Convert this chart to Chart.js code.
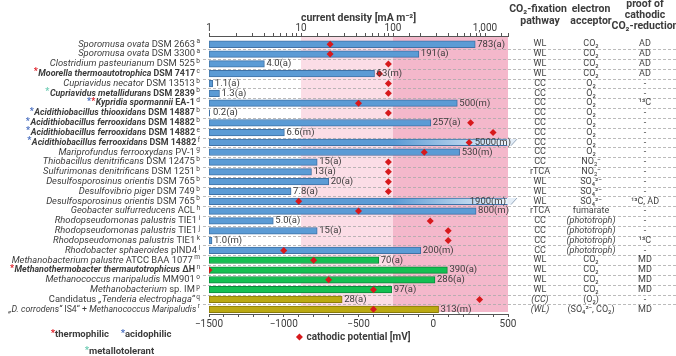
<!DOCTYPE html>
<html lang="en">
<head>
  <meta charset="UTF-8"/>
  <title>Cathodic CO2 reduction</title>
  <script src="https://cdn.jsdelivr.net/npm/chart.js"></script>
  <style>
    body { margin: 0; background: #fff; }
    canvas { display: block; }
  </style>
</head>
<body>
<canvas id="chart" width="676" height="356"></canvas>
<script>
  // organism labels, '_' toggles italic
  const organisms = [
    '_Sporomusa ovata_ DSM 2663', '_Sporomusa ovata_ DSM 3300', '_Clostridium pasteurianum_ DSM 525',
    '_Moorella thermoautotrophica_ DSM 7417', '_Cupriavidus necator_ DSM 13513', '_Cupriavidus metallidurans_ DSM 2839',
    '_Kypridia spormannii_ EA-1', '_Acidithiobacillus thiooxidans_ DSM 14887', '_Acidithiobacillus ferrooxidans_ DSM 14882',
    '_Acidithiobacillus ferrooxidans_ DSM 14882', '_Acidithiobacillus ferrooxidans_ DSM 14882', '_Mariprofundus ferrooxydans_ PV-1',
    '_Thiobacillus denitrificans_ DSM 12475', '_Sulfurimonas denitrificans_ DSM 1251', '_Desulfosporosinus orientis_ DSM 765',
    '_Desulfovibrio piger_ DSM 749', '_Desulfosporosinus orientis_ DSM 765', '_Geobacter sulfurreducens_ ACL',
    '_Rhodopseudomonas palustris_ TIE1', '_Rhodopseudomonas palustris_ TIE1', '_Rhodopseudomonas palustris_ TIE1',
    '_Rhodobacter sphaeroides_ pIND4', '_Methanobacterium palustre_ ATCC BAA 1077', '_Methanothermobacter thermautotrophicus_ ΔH',
    '_Methanococcus maripaludis_ MM901', '_Methanobacterium_ sp. IM', 'Candidatus _„Tenderia electrophaga“_',
    '_„D. corrodens“_ IS4“ + _Methanococcus Maripaludis_'
  ];
  const refs = ['a','a','b','c','b','b','d','b','b','e','f','g','b','b','b','b','b','h','i','j','k','l','m','n','o','p','q','r'];
  const boldRows = [3, 5, 6, 7, 8, 9, 10, 23];
  // r = thermophilic, b = acidophilic, t = metallotolerant
  const markers = ['','','','r','','t','br','b','b','b','b','','','','','','','','','','','','','r','','','',''];

  const currentDensity = [783, 191, 4.0, 63, 1.1, 1.3, 500, 0.2, 257, 6.6, 5000, 530, 15, 13, 20, 7.8, 1900, 800, 5.0, 15, 1.0, 200, 70, 390, 286, 97, 28, 313];
  const method = ['a','a','a','m','a','a','m','a','a','m','m','m','a','a','a','a','m','m','a','a','m','m','a','a','a','a','a','m'];
  const potential = [-690, -690, -300, -360, -300, -300, -500, -300, 250, 400, 240, -60, -300, -300, -300, -300, -900, -500, -20, 100, 100, -1000, -800, -1500, -700, -400, 310, -400];
  // b = blue, g = green, o = olive, f = faded (off-scale)
  const group = ['b','b','b','b','b','b','b','b','b','b','f','b','b','b','b','b','f','b','b','b','b','b','g','g','g','g','o','o'];

  const pathway = ['WL','WL','WL','WL','CC','CC','CC','CC','CC','CC','CC','CC','CC','rTCA','WL','WL','WL','rTCA','CC','CC','CC','CC','WL','WL','WL','WL','_(CC)_','_(WL)_'];
  const acceptor = ['CO₂','CO₂','CO₂','CO₂','O₂','O₂','O₂','O₂','O₂','O₂','O₂','O₂','NO₃⁻','NO₃⁻','SO₄²⁻','SO₄²⁻','SO₄²⁻','fumarate',
    '_(phototroph)_','_(phototroph)_','_(phototroph)_','_(phototroph)_','CO₂','CO₂','CO₂','CO₂','(O₂)','(SO₄²⁻, CO₂)'];
  const proof = ['AD','AD','AD','AD','-','-','¹³C','-','-','-','-','-','-','-','-','-','¹³C, AD','-','-','-','¹³C','-','MD','MD','MD','MD','-','MD'];

  const curTicks = [1, 10, 100, 1000];
  const curTickText = ['1', '10', '100', '1,000'];
  const potTicks = [-1500, -1000, -500, 0, 500];

  const FONT = 'Roboto';
  const TXT = '#3c3c3c';
  const fills = { b: '#5b9bd5', f: '#5b9bd5', g: '#14bf52', o: '#bba912' };
  const borders = { b: '#3f72a6', f: '#3f72a6', g: '#0b8a3a', o: '#8a7c08' };
  const markColors = { r: '#e0202a', b: '#4a6fc0', t: '#70cdb5' };

  // draws '_'-marked text, squeezed horizontally if wider than maxW
  function drawRich(ctx, markup, x, y, align, size, bold, color, maxW) {
    const parts = markup.split('_');
    const fontFor = k => (k % 2 ? 'italic ' : '') + (bold ? 'bold ' : '') + size + 'px ' + FONT;
    let total = 0;
    parts.forEach((p, k) => { ctx.font = fontFor(k); total += ctx.measureText(p).width; });
    const sx = maxW && total > maxW ? maxW / total : 1;
    const w = total * sx;
    const start = align === 'right' ? x - w : align === 'center' ? x - w / 2 : x;
    ctx.save();
    ctx.translate(start, y);
    ctx.scale(sx, 1);
    ctx.fillStyle = color;
    ctx.textAlign = 'left';
    ctx.textBaseline = 'middle';
    let cx = 0;
    parts.forEach((p, k) => {
      ctx.font = fontFor(k);
      ctx.fillText(p, cx, 0);
      cx += ctx.measureText(p).width;
    });
    ctx.restore();
    return start;
  }

  const decor = {
    id: 'decor',
    beforeDraw(chart) {
      const { ctx, chartArea: a, scales } = chart;
      const xc = scales.xCur, ys = scales.y;
      ctx.save();
      ctx.fillStyle = '#fbdde6';
      ctx.fillRect(xc.getPixelForValue(10), a.top + 1, xc.getPixelForValue(100) - xc.getPixelForValue(10), a.bottom - a.top - 3);
      ctx.fillStyle = '#f4b8cb';
      ctx.fillRect(xc.getPixelForValue(100), a.top + 1, a.right - xc.getPixelForValue(100), a.bottom - a.top - 3);
      ctx.strokeStyle = '#aaaaaa';
      ctx.lineWidth = 0.8;
      ctx.setLineDash([3, 2]);
      for (let i = 0; i < organisms.length - 1; i++) {
        const y = Math.round(ys.getPixelForValue(i + 0.5)) + 0.5;
        ctx.beginPath();
        ctx.moveTo(203, y);
        ctx.lineTo(676, y);
        ctx.stroke();
      }
      ctx.restore();
    },
    afterDraw(chart) {
      const { ctx, chartArea: a, scales } = chart;
      const xc = scales.xCur, xp = scales.xPot, ys = scales.y;
      const bars = chart.getDatasetMeta(1).data;
      ctx.save();

      // off-scale bar ends and value labels
      currentDensity.forEach((v, i) => {
        const bar = bars[i];
        const y = ys.getPixelForValue(i);
        const txt = (v < 10 ? v.toFixed(1) : String(v)) + '(' + method[i] + ')';
        ctx.font = '9.5px ' + FONT;
        ctx.fillStyle = TXT;
        ctx.textBaseline = 'middle';
        if (group[i] === 'f') {
          const t = bar.y - bar.height / 2, b = bar.y + bar.height / 2;
          ctx.fillStyle = '#e4eef8';
          ctx.beginPath();
          ctx.moveTo(a.right - 1, t); ctx.lineTo(a.right + 9, t); ctx.lineTo(a.right + 3, b); ctx.lineTo(a.right - 1, b);
          ctx.closePath(); ctx.fill();
          ctx.strokeStyle = '#7f93aa'; ctx.lineWidth = 0.8;
          ctx.beginPath(); ctx.moveTo(a.right + 3, b); ctx.lineTo(a.right + 9, t); ctx.stroke();
          ctx.fillStyle = TXT;
          ctx.textAlign = 'right';
          ctx.fillText(txt, a.right + (v > 3000 ? 3 : -2), y);
        } else if (v < xc.min) {
          ctx.fillStyle = '#3f72a6';
          ctx.fillRect(a.left, bar.y - bar.height / 2, 1, bar.height);
          ctx.fillStyle = TXT;
          ctx.textAlign = 'left';
          ctx.fillText(txt, a.left + 4, y);
        } else {
          ctx.textAlign = 'left';
          ctx.fillText(txt, Math.max(bar.x, a.left + 3) + 2, y);
        }
      });

      // organism labels
      organisms.forEach((name, i) => {
        const y = ys.getPixelForValue(i);
        const bold = boldRows.includes(i);
        ctx.font = '6.5px ' + FONT;
        const supW = ctx.measureText(refs[i]).width;
        ctx.fillStyle = TXT;
        ctx.textAlign = 'right';
        ctx.textBaseline = 'middle';
        ctx.fillText(refs[i], 200, y - 2.5);
        const m = markers[i];
        let start = drawRich(ctx, name, 200 - supW - 1.5, y, 'right', bold ? 8.9 : 9.4, bold, TXT, 190 - supW - m.length * 5);
        for (let k = m.length - 1; k >= 0; k--) {
          ctx.font = 'bold 9px ' + FONT;
          ctx.fillStyle = markColors[m[k]];
          ctx.textAlign = 'right';
          ctx.fillText('*', start - 0.5, y - 1.5);
          start -= ctx.measureText('*').width;
        }
        // right columns
        drawRich(ctx, pathway[i], 540, y, 'center', 9, false, '#444');
        drawRich(ctx, acceptor[i], 591, y, 'center', 9, false, '#444');
        drawRich(ctx, proof[i], 645, y, 'center', 9, false, '#444');
      });

      // column headers
      ctx.font = 'bold 10.5px ' + FONT;
      ctx.fillStyle = TXT;
      ctx.textAlign = 'center';
      ctx.textBaseline = 'middle';
      ctx.fillText('CO₂-fixation', 538, 9);
      ctx.fillText('pathway', 540, 21);
      ctx.fillText('electron', 591, 9);
      ctx.fillText('acceptor', 591, 21);
      ctx.fillText('proof of', 645, 4);
      ctx.fillText('cathodic', 645, 15);
      ctx.fillText('CO₂-reduction', 645, 26);

      // diamond in front of the bottom axis title
      ctx.font = 'bold 10px ' + FONT;
      const tw = ctx.measureText(xp.options.title.text).width;
      const dx = (xp.left + xp.right) / 2 - tw / 2 - 7, dy = 337;
      ctx.fillStyle = '#d7191c';
      ctx.beginPath();
      ctx.moveTo(dx, dy - 3.5); ctx.lineTo(dx + 3.5, dy); ctx.lineTo(dx, dy + 3.5); ctx.lineTo(dx - 3.5, dy);
      ctx.closePath(); ctx.fill();

      // trait notes
      const notes = [['r', 'thermophilic', 55, 335], ['b', 'acidophilic', 125, 335], ['t', 'metallotolerant', 89, 352]];
      notes.forEach(([k, t, x, y]) => {
        ctx.font = 'bold 9.5px ' + FONT;
        ctx.fillStyle = TXT;
        ctx.textAlign = 'left';
        ctx.fillText(t, x, y);
        ctx.fillStyle = markColors[k];
        ctx.textAlign = 'right';
        ctx.fillText('*', x, y - 1.5);
      });
      ctx.restore();
    }
  };

  const rows = organisms.map((_, i) => i);

  new Chart(document.getElementById('chart'), {
    type: 'bar',
    data: {
      datasets: [
        {
          type: 'scatter',
          label: 'cathodic potential [mV]',
          data: rows.map(i => ({ x: potential[i], y: i })),
          xAxisID: 'xPot',
          yAxisID: 'y',
          pointStyle: 'rectRot',
          pointRadius: 3.5,
          backgroundColor: '#d7191c',
          borderColor: '#d7191c',
          borderWidth: 0,
          order: 0
        },
        {
          label: 'current density',
          data: rows.map(i => ({ x: currentDensity[i], y: i })),
          xAxisID: 'xCur',
          yAxisID: 'y',
          barThickness: 6.6,
          minBarLength: 3,
          borderWidth: 1,
          borderSkipped: false,
          borderColor: c => borders[group[c.dataIndex]],
          backgroundColor: c => {
            const g = group[c.dataIndex];
            const area = c.chart.chartArea;
            if (g !== 'f' || !area) return fills[g];
            const grad = c.chart.ctx.createLinearGradient(area.left, 0, area.right, 0);
            grad.addColorStop(0, fills.b);
            grad.addColorStop(0.62, fills.b);
            grad.addColorStop(1, '#eef4fb');
            return grad;
          },
          order: 1
        }
      ]
    },
    options: {
      indexAxis: 'y',
      responsive: false,
      animation: false,
      layout: { padding: { left: 209, right: 168, top: 0, bottom: 0 } },
      plugins: { legend: { display: false }, tooltip: { enabled: false } },
      scales: {
        y: { type: 'linear', min: -0.84, max: 27.48, reverse: true, offset: false, display: false },
        xCur: {
          type: 'logarithmic',
          position: 'top',
          min: 1,
          max: 1778,
          afterFit: s => { s.height = 36; },
          border: { color: '#555' },
          grid: { drawOnChartArea: false, tickLength: 3, color: '#555' },
          ticks: {
            autoSkip: false,
            maxRotation: 0,
            padding: -1,
            color: TXT,
            font: { family: FONT, size: 10 },
            callback: v => { const k = curTicks.indexOf(v); return k < 0 ? '' : curTickText[k]; }
          },
          title: {
            display: true,
            text: 'current density [mA m⁻²]',
            color: TXT,
            font: { family: FONT, size: 10.5, weight: 'bold' },
            padding: { top: 12, bottom: 0 }
          }
        },
        xPot: {
          type: 'linear',
          position: 'bottom',
          min: -1500,
          max: 500,
          afterFit: s => { s.height = 42; },
          border: { color: '#555' },
          grid: { drawOnChartArea: false, tickLength: 3, color: '#555' },
          ticks: {
            stepSize: 100,
            autoSkip: false,
            maxRotation: 0,
            padding: 1,
            color: TXT,
            font: { family: FONT, size: 10 },
            callback: v => potTicks.includes(v) ? (v < 0 ? '\u2212' + Math.abs(v) : String(v)) : ''
          },
          title: {
            display: true,
            text: 'cathodic potential [mV]',
            color: TXT,
            font: { family: FONT, size: 10, weight: 'bold' },
            padding: { top: 0, bottom: 13 }
          }
        }
      }
    },
    plugins: [decor]
  });
</script>
</body>
</html>
